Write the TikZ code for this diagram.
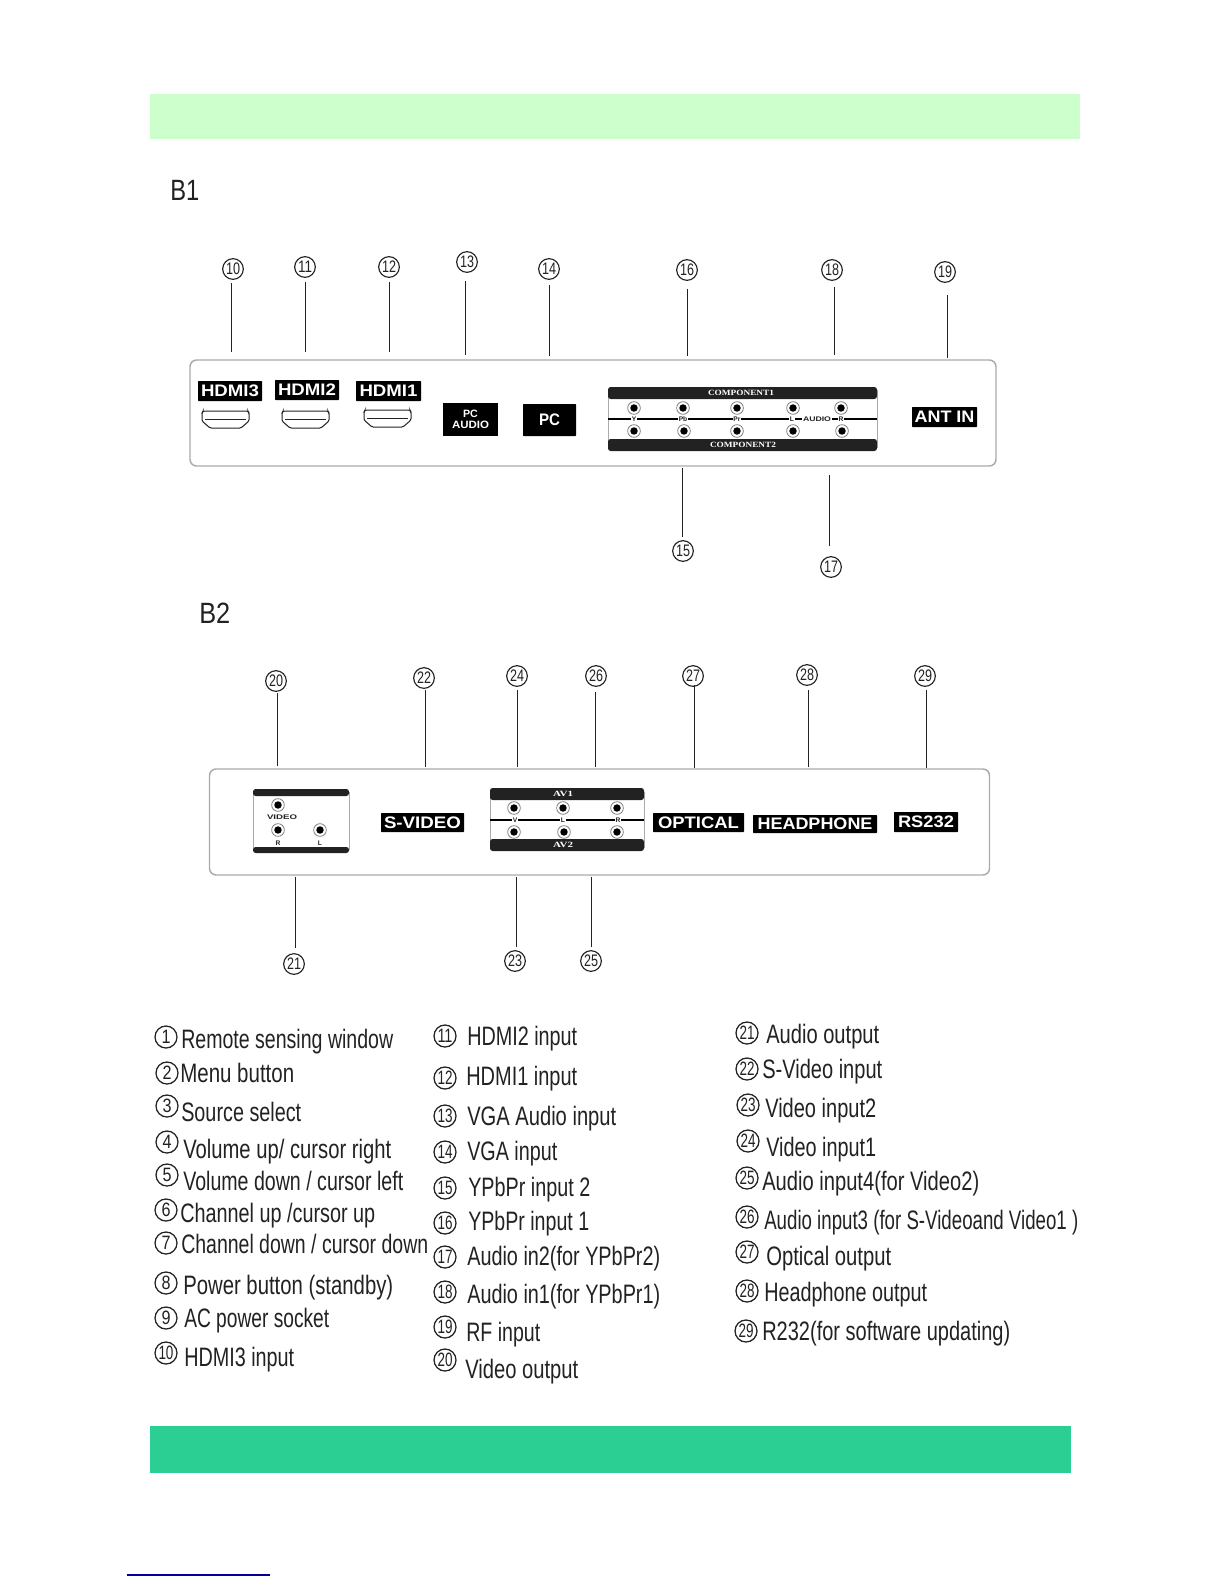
\documentclass[tikz,border=0pt]{standalone}
\usepackage{fontspec}
\usepackage{graphicx}
\setmainfont{Liberation Sans}
\newfontfamily\serifbf[Scale=1]{Liberation Serif}
\newlength\pxu \setlength\pxu{0.75pt}
\newcommand\fitw[2]{\resizebox{#1\pxu}{\height}{#2}}
\definecolor{topband}{HTML}{CCFFCC}
\definecolor{botband}{HTML}{2BCE93}
\definecolor{panelgray}{HTML}{ABABAB}
\definecolor{inkk}{HTML}{222222}
\tikzset{
 panel/.style={draw=panelgray,line width=1.1pt,rounded corners=5pt,fill=white},
 numc/.style={circle,draw=inkk,line width=0.85pt,minimum size=15.5pt,inner sep=0pt,font=\fontsize{12.5pt}{13pt}\selectfont,text=inkk},
 listc/.style={circle,draw=inkk,line width=0.95pt,minimum size=16.5pt,inner sep=0pt,font=\fontsize{14.5pt}{15pt}\selectfont,text=inkk},
 lead/.style={draw=inkk,line width=0.75pt},
 lab/.style={fill=black,text=white,inner sep=0pt,font=\bfseries\fontsize{12.5pt}{13pt}\selectfont,rounded corners=0.5pt},
 itemt/.style={anchor=base west,inner sep=0pt,text=inkk,font=\fontsize{20pt}{22pt}\selectfont},
 head/.style={anchor=base west,inner sep=0pt,text=inkk,font=\fontsize{22pt}{24pt}\selectfont},
 bar/.style={fill=inkk,rounded corners=2pt},
 boxside/.style={draw=panelgray,line width=0.6pt},
 jacko/.style={circle,draw=gray,line width=0.6pt,fill=white,minimum size=9.5pt,inner sep=0pt},
 jacki/.style={circle,fill=black,minimum size=5.6pt,inner sep=0pt},
 tiny/.style={inner sep=0.4pt,fill=white,text=inkk,font=\bfseries\fontsize{5pt}{5pt}\selectfont},
 bart/.style={inner sep=0pt,text=white,font=\serifbf\bfseries\fontsize{6pt}{6pt}\selectfont},
}
\newcommand\leadline[4]{% name,x,y1,y2
 \coordinate (a#1) at (#2,#3); \coordinate (b#1) at (#2,#4); \draw[lead] (a#1) -- (b#1);
}
\newcommand\blab[6]{% name, x1,y1,x2,y2,text
 \node[lab,minimum width={(#4-#2)*0.75pt},minimum height={(#5-#3)*0.75pt}] (l#1) at ({(#2+#4)/2},{(#3+#5)/2}) {#6};
}
\newcommand\hdmiport[3]{% name,x,y (top-left)
 \begin{scope}[shift={(#2,#3)}]
 \coordinate (p#1) at (0,0);
 \draw[inkk,line width=0.75pt,rounded corners=1pt] (0,2) -- (1,0) -- (46,0) -- (47,2) -- (47,10) -- (39,17) -- (8,17) -- (0,10) -- cycle;
 \draw[inkk,line width=0.75pt] (3,8.5) -- (44,8.5);
 \end{scope}
}
\newcommand\jack[3]{\node[jacko] (j#1) at (#2,#3) {}; \node[jacki] (k#1) at (#2,#3) {};}
\newcommand\litem[7]{% num,cx,cy,x1,x2,base,text
 \node[listc] (c#1) at (#2,#3) {\ifnum#1>9 \fitw{15}{#1}\else\fitw{9}{#1}\fi};
 \node[itemt] (t#1) at (#4,#6) {\fitw{\the\numexpr#5-#4\relax}{#7}};
}
\begin{document}
\begin{tikzpicture}[x=0.75pt,y=-0.75pt]
\useasboundingbox (0,0) rectangle (1224,1584);
\fill[white] (0,0) rectangle (1224,1584);
\fill[topband] (150,94) rectangle (1080,139);
\fill[botband] (150,1426) rectangle (1071,1473);
\coordinate (ul1) at (127,1575); \coordinate (ul2) at (270,1575);
\draw[blue!60!black,line width=0.8pt] (ul1) -- (ul2);

\node[head] (hb1) at (170,200) {\fitw{29}{B1}};
\node[head] (hb2) at (199,623) {\fitw{31}{B2}};

% ---------- Panel B1
\node[panel,minimum width=604.5pt,minimum height=79.5pt,inner sep=0pt] (panelA) at (593,413) {};
\blab{h3}{198}{381}{262}{401}{\fitw{58}{HDMI3}}
\blab{h2}{275}{380}{339}{400}{\fitw{58}{HDMI2}}
\blab{h1}{356}{381}{421}{401}{\fitw{58}{HDMI1}}
\hdmiport{a}{202}{411}
\hdmiport{b}{282}{411}
\hdmiport{c}{364}{410}
\node[fill=black,minimum width=41.25pt,minimum height=24.75pt,inner sep=0pt] (lpca) at (470.5,419.5) {};
\node[text=white,font=\bfseries\fontsize{8pt}{9pt}\selectfont,align=center,inner sep=0pt] (tpca) at (470.5,419.5) {PC\\[-0.5pt]\fitw{37}{AUDIO}};
\blab{pc}{523}{404}{576}{436}{\fitw{21}{PC}}

% Component block
\draw[boxside] (608,390) -- (608,448) (877,390) -- (877,448);
\coordinate (mA1) at (608,419); \coordinate (mA2) at (877,419);
\draw[black,line width=0.8pt] (mA1) -- (mA2);
\fill[bar] (608,387) rectangle (877,399);
\fill[bar] (608,439) rectangle (877,451);
\node[bart] (tc1) at (741,393) {\fitw{66}{COMPONENT1}};
\node[bart] (tc2) at (743,445) {\fitw{66}{COMPONENT2}};
\foreach \nm/\xx/\tt in {a/634/Y,b/683/Pb,c/737/Pr,d/841/R}{
  \node[tiny] (ty\nm) at (\xx,419.5) {\tt};}
\node[tiny] (tyL) at (792,419.5) {L};
\node[tiny] (tyAudio) at (817,419.5) {\fitw{28}{AUDIO}};
\jack{a1}{634}{408}\jack{a2}{683}{408}\jack{a3}{737}{408}\jack{a4}{793}{408}\jack{a5}{841}{408}
\jack{b1}{634}{431}\jack{b2}{684}{431}\jack{b3}{737}{431}\jack{b4}{793}{431}\jack{b5}{842}{431}
\blab{ant}{912}{407}{977}{427}{\fitw{60}{ANT IN}}

% callouts B1
\foreach \n/\cx/\cy in {10/233/269,11/305/267,12/389/267,13/467/262,14/549/269,16/687/270,18/832/270,19/945/272,15/683/551,17/831/567}{
  \node[numc] (n\n) at (\cx,\cy) {\fitw{14}{\n}};}
\leadline{10}{231.5}{283}{352}
\leadline{11}{305}{282}{352}
\leadline{12}{389}{282}{352}
\leadline{13}{465}{281}{355}
\leadline{14}{549.5}{285}{356}
\leadline{16}{687}{289}{356}
\leadline{18}{834}{287}{355}
\leadline{19}{947}{295}{358}
\leadline{15}{682.5}{468}{537}
\leadline{17}{829.5}{475}{546}

% ---------- Panel B2
\node[panel,minimum width=585pt,minimum height=79.5pt,inner sep=0pt] (panelB) at (599.5,822) {};
\draw[boxside] (253,792) -- (253,850) (349,792) -- (349,850);
\fill[bar] (253,789) rectangle (349,796);
\fill[bar] (253,847) rectangle (349,853);
\jack{v1}{278}{805}\jack{v2}{278}{830}\jack{v3}{320}{830}
\node[tiny,fill=none] (tvid) at (282,817) {\fitw{30}{VIDEO}};
\node[tiny,fill=none] (tvr) at (278,843) {R};
\node[tiny,fill=none] (tvl) at (320,843) {L};
\blab{sv}{381}{813}{464}{832}{\fitw{77}{S-VIDEO}}
\draw[boxside] (490,792) -- (490,848) (644,792) -- (644,848);
\coordinate (mB1) at (490,820); \coordinate (mB2) at (644,820);
\draw[black,line width=0.8pt] (mB1) -- (mB2);
\fill[bar] (490,788) rectangle (644,800);
\fill[bar] (490,839) rectangle (644,851);
\node[bart] (tav1) at (563,794) {\fitw{20}{AV1}};
\node[bart] (tav2) at (563,845) {\fitw{20}{AV2}};
\foreach \nm/\xx/\tt in {v/515/V,l/563/L,r/618/R}{
  \node[tiny] (tz\nm) at (\xx,820) {\tt};}
\jack{c1}{514}{808}\jack{c2}{563}{808}\jack{c3}{617}{808}
\jack{d1}{514}{832}\jack{d2}{564}{832}\jack{d3}{617}{832}
\blab{op}{653}{813}{744}{832}{\fitw{81}{OPTICAL}}
\blab{hp}{753}{815}{877}{833}{\fitw{115}{HEADPHONE}}
\blab{rs}{894}{812}{958}{832}{\fitw{56}{RS232}}

\foreach \n/\cx/\cy in {20/276/681,22/424/678,24/517/676,26/596/676,27/693/676,28/807/675,29/925/676,21/294/964,23/515/961,25/591/961}{
  \node[numc] (n\n) at (\cx,\cy) {\fitw{14}{\n}};}
\leadline{20}{277}{693}{766}
\leadline{22}{425}{690}{767}
\leadline{24}{517}{690}{767}
\leadline{26}{595}{692}{767}
\leadline{27}{694}{685}{768}
\leadline{28}{808}{690}{767}
\leadline{29}{926}{690}{768}
\leadline{21}{295}{877}{948}
\leadline{23}{516}{877}{947}
\leadline{25}{591}{877}{947}

% ---------- List
\litem{1}{166}{1037}{181}{393}{1048}{Remote sensing window}
\litem{2}{167}{1073}{180}{294}{1082}{Menu  button}
\litem{3}{167}{1106}{181}{301}{1121}{Source select}
\litem{4}{167}{1142}{183}{391}{1158}{Volume up/ cursor right}
\litem{5}{167}{1175}{183}{403}{1190}{Volume down / cursor left}
\litem{6}{166}{1210}{180}{375}{1222}{Channel up /cursor up}
\litem{7}{166}{1243}{181}{428}{1253}{Channel down / cursor down}
\litem{8}{166}{1283}{183}{393}{1294}{Power  button (standby)}
\litem{9}{166}{1318}{184}{329}{1327}{AC power socket}
\litem{10}{166}{1353}{184}{294}{1366}{HDMI3 input}

\litem{11}{445}{1036}{467}{577}{1045}{HDMI2 input}
\litem{12}{445}{1078}{466}{577}{1085}{HDMI1 input}
\litem{13}{445}{1116}{467}{616}{1125}{VGA  Audio input}
\litem{14}{445}{1152}{467}{557}{1160}{VGA input}
\litem{15}{445}{1188}{468}{590}{1196}{YPbPr input 2}
\litem{16}{445}{1223}{468}{589}{1230}{YPbPr input 1}
\litem{17}{445}{1257}{467}{660}{1265}{Audio in2(for YPbPr2)}
\litem{18}{445}{1292}{467}{660}{1303}{Audio in1(for YPbPr1)}
\litem{19}{445}{1327}{466}{540}{1341}{RF input}
\litem{20}{445}{1360}{465}{578}{1378}{Video output}

\litem{21}{747}{1033}{766}{879}{1043}{Audio output}
\litem{22}{747}{1069}{762}{882}{1078}{S-Video input}
\litem{23}{748}{1105}{765}{876}{1117}{Video input2}
\litem{24}{748}{1141}{766}{876}{1156}{Video input1}
\litem{25}{747}{1178}{762}{979}{1190}{Audio input4(for Video2)}
\litem{26}{747}{1217}{764}{1078}{1229}{Audio input3 (for S-Videoand Video1 )}
\litem{27}{747}{1252}{766}{891}{1265}{Optical output}
\litem{28}{747}{1291}{764}{927}{1301}{Headphone output}
\litem{29}{746}{1331}{762}{1010}{1340}{R232(for software updating)}
\end{tikzpicture}
\end{document}
